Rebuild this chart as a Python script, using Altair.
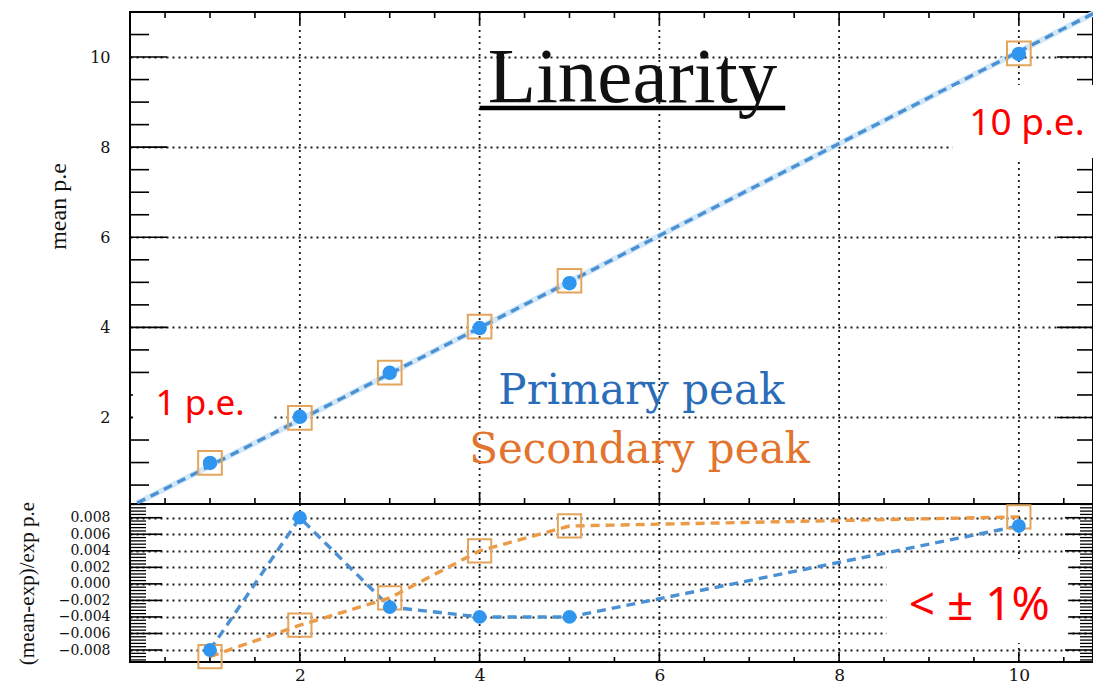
import altair as alt
import pandas as pd
import numpy as np

# ---------------- data ----------------
EXPECTED = [1, 2, 3, 4, 5, 10]
PRIMARY_MEAN = [0.992, 2.016, 2.991, 3.984, 4.980, 10.070]
SECONDARY_MEAN = [0.991, 1.990, 2.995, 4.016, 5.035, 10.081]
PRIMARY_RES = [-0.0080, 0.0080, -0.0028, -0.0040, -0.0040, 0.0070]
SECONDARY_RES = [-0.0088, -0.0050, -0.0017, 0.0040, 0.0070, 0.0081]
FIT_X = [0.19, 10.85]
FIT_Y = [0.10, 10.99]

X_MAJOR = [2, 4, 6, 8, 10]
X_MINOR = [0.5, 1, 1.5, 2.5, 3, 3.5, 4.5, 5, 5.5, 6.5, 7, 7.5, 8.5, 9, 9.5, 10.5]
TOP_Y_MAJOR = [2, 4, 6, 8, 10]
TOP_Y_MINOR = [0.5, 1, 1.5, 2.5, 3, 3.5, 4.5, 5, 5.5, 6.5, 7, 7.5, 8.5, 9, 9.5, 10.5]
BOT_Y_MAJOR = [-0.008, -0.006, -0.004, -0.002, 0.0, 0.002, 0.004, 0.006, 0.008]
_bm = np.round(np.arange(-0.0092, 0.00961, 0.0004), 4)
BOT_Y_MINOR = [float(v) for v in _bm if abs(round(v / 0.002) * 0.002 - v) > 1e-6]

# ---------------- layout constants ----------------
W = 963          # plot width (both panels)
H = 650          # total plot height
H_TOP = 492      # height of the upper panel
XS = alt.Scale(domain=[0.11, 10.825], nice=False, zero=False)
YS_TOP = alt.Scale(domain=[0.08, 11.0], range=[H_TOP, 0], nice=False, zero=False)
YS_BOT = alt.Scale(domain=[-0.00945, 0.00966], range=[H, H_TOP], nice=False, zero=False)

BLUE_PT = "#2f95ee"
BLUE_LINE = "#4a90d2"
ORANGE_SQ = "#e3a45c"
ORANGE_LINE = "#eb9a48"
GRID_DASH = [2, 4]

AX_X = alt.Axis(values=X_MAJOR, format="d", labelFontSize=17, labelPadding=5,
                title=None, grid=False, orient="bottom")
AX_TOP_Y = alt.Axis(values=TOP_Y_MAJOR, format="d", labelFontSize=16, labelPadding=20,
                    title="mean p.e", titleFontSize=24, titleX=-72, titleY=194,
                    titleBaseline="middle", grid=True, orient="left")
AX_BOT_Y = alt.Axis(values=BOT_Y_MAJOR, format=".3f", labelFontSize=14, labelPadding=20,
                    title="(mean-exp)/exp p.e", titleFontSize=21, titleX=-103, titleY=571,
                    titleBaseline="middle", grid=True, orient="left")


def X(field):
    return alt.X(field, type="quantitative", scale=XS, axis=AX_X)


def Y(field, scale, ax=None):
    return alt.Y(field, type="quantitative", scale=scale, axis=ax)


def xticks(values, y0, y1, width=1.6):
    return alt.Chart(pd.DataFrame({"x": values})).mark_rule(
        color="black", strokeWidth=width).encode(
        x=X("x"), y=alt.value(y0), y2=alt.value(y1))


def yticks(values, scale, x0, x1, width=1.6, ax=None):
    return alt.Chart(pd.DataFrame({"y": values})).mark_rule(
        color="black", strokeWidth=width).encode(
        y=Y("y", scale, ax), x=alt.value(x0), x2=alt.value(x1))


def box(x0, x1, y0, y1, scale):
    return alt.Chart(pd.DataFrame({"x": [x0], "x2": [x1], "y": [y0], "y2": [y1]})).mark_rect(
        fill="white").encode(x=X("x"), x2="x2:Q", y=Y("y", scale), y2="y2:Q")


def label(text, x, y, scale, font, size, color):
    return alt.Chart(pd.DataFrame({"x": [x], "y": [y], "t": [text]})).mark_text(
        font=font, fontSize=size, color=color, align="center", baseline="alphabetic").encode(
        x=X("x"), y=Y("y", scale), text="t:N")


# vertical dotted grid through both panels
vgrid = alt.Chart(pd.DataFrame({"x": X_MAJOR})).mark_rule(
    color="black", strokeWidth=1.8, strokeDash=GRID_DASH, opacity=0.9).encode(
    x=X("x"), y=alt.value(0), y2=alt.value(H))

# ---------------- upper panel ----------------
fit_df = pd.DataFrame({"x": FIT_X, "y": FIT_Y})
fit_halo = alt.Chart(fit_df).mark_line(color="#d2e8f8", strokeWidth=6).encode(
    x=X("x"), y=Y("y", YS_TOP))
fit_line = alt.Chart(fit_df).mark_line(color=BLUE_LINE, strokeWidth=3.4, strokeDash=[9, 6]).encode(
    x=X("x"), y=Y("y", YS_TOP))

top_pts = pd.DataFrame({"x": EXPECTED, "p": PRIMARY_MEAN, "s": SECONDARY_MEAN})
top_sq = alt.Chart(top_pts).mark_point(shape="square", filled=False, color=ORANGE_SQ,
                                       size=560, strokeWidth=2, opacity=1).encode(
    x=X("x"), y=Y("s", YS_TOP))
top_ci = alt.Chart(top_pts).mark_circle(color=BLUE_PT, size=210, opacity=1).encode(
    x=X("x"), y=Y("p", YS_TOP))

underline = alt.Chart(pd.DataFrame({"x": [4.0], "x2": [7.40], "y": [8.87]})).mark_rule(
    color="black", strokeWidth=4.5).encode(x=X("x"), x2="x2:Q", y=Y("y", YS_TOP))

# ---------------- lower panel ----------------
bot_df = pd.DataFrame({"x": EXPECTED, "p": PRIMARY_RES, "s": SECONDARY_RES})
bot_blue = alt.Chart(bot_df).mark_line(color=BLUE_LINE, strokeWidth=3.4, strokeDash=[9, 6]).encode(
    x=X("x"), y=Y("p", YS_BOT))
bot_orange = alt.Chart(bot_df).mark_line(color=ORANGE_LINE, strokeWidth=3.4, strokeDash=[9, 6]).encode(
    x=X("x"), y=Y("s", YS_BOT))
bot_sq = alt.Chart(bot_df).mark_point(shape="square", filled=False, color=ORANGE_SQ,
                                      size=540, strokeWidth=2, opacity=1).encode(
    x=X("x"), y=Y("s", YS_BOT))
bot_ci = alt.Chart(bot_df).mark_circle(color=BLUE_PT, size=190, opacity=1).encode(
    x=X("x"), y=Y("p", YS_BOT))

separator = alt.Chart(pd.DataFrame({"k": [0]})).mark_rule(color="black", strokeWidth=2).encode(
    x=alt.value(0), x2=alt.value(W), y=alt.value(H_TOP))

chart = alt.layer(
    vgrid,
    fit_halo,
    # upper panel ticks
    xticks(X_MAJOR, 0, 12), xticks(X_MINOR, 0, 6),
    xticks(X_MAJOR, H_TOP, H_TOP - 12), xticks(X_MINOR, H_TOP, H_TOP - 6),
    yticks(TOP_Y_MAJOR, YS_TOP, 0, 37, ax=AX_TOP_Y), yticks(TOP_Y_MINOR, YS_TOP, 0, 19),
    yticks(TOP_Y_MAJOR, YS_TOP, W, W - 36), yticks(TOP_Y_MINOR, YS_TOP, W, W - 16),
    # lower panel ticks
    xticks(X_MAJOR, H, H - 10), xticks(X_MINOR, H, H - 5),
    yticks(BOT_Y_MAJOR, YS_BOT, 0, 32, ax=AX_BOT_Y), yticks(BOT_Y_MINOR, YS_BOT, 0, 16, 1.3),
    yticks(BOT_Y_MAJOR, YS_BOT, W, W - 28), yticks(BOT_Y_MINOR, YS_BOT, W, W - 13, 1.3),
    separator,
    # white annotation boxes
    box(0.143, 1.70, 1.69, 2.84, YS_TOP),
    box(9.26, 10.89, 7.76, 9.38, YS_TOP),
    box(8.53, 10.55, -0.00715, 0.0030, YS_BOT),
    # data
    fit_line, top_sq, top_ci, underline,
    bot_blue, bot_orange, bot_sq, bot_ci,
    # texts
    label("Linearity", 5.70, 9.0, YS_TOP, "Liberation Serif", 79, "#111111"),
    label("Primary peak", 5.80, 2.29, YS_TOP, "DejaVu Serif", 42, "#2b6cb8"),
    label("Secondary peak", 5.78, 1.0, YS_TOP, "DejaVu Serif", 42, "#e2742e"),
    label("1 p.e.", 0.89, 2.06, YS_TOP, "Noto Sans", 35, "#ff0000"),
    label("10 p.e.", 10.09, 8.27, YS_TOP, "Noto Sans", 37, "#ff0000"),
    label("< ± 1%", 9.56, -0.00437, YS_BOT, "Noto Sans", 46, "#ff0000"),
).resolve_scale(
    y="independent"
).resolve_axis(
    y="independent"
).properties(
    width=W, height=H,
    autosize=alt.AutoSizeParams(type="none"),
    padding={"left": 122, "top": 4, "right": 0, "bottom": 24},
).configure_view(
    stroke="black", strokeWidth=2
).configure_axis(
    gridColor="black", gridDash=GRID_DASH, gridWidth=1.8, gridOpacity=0.9,
    domain=False, ticks=False, labelFont="DejaVu Serif", titleFont="Liberation Serif",
    labelColor="#111111", titleColor="#111111", titleFontWeight="normal", labelOverlap=False,
)

chart.save("out.html", embed_options={"renderer": "svg", "actions": False})
